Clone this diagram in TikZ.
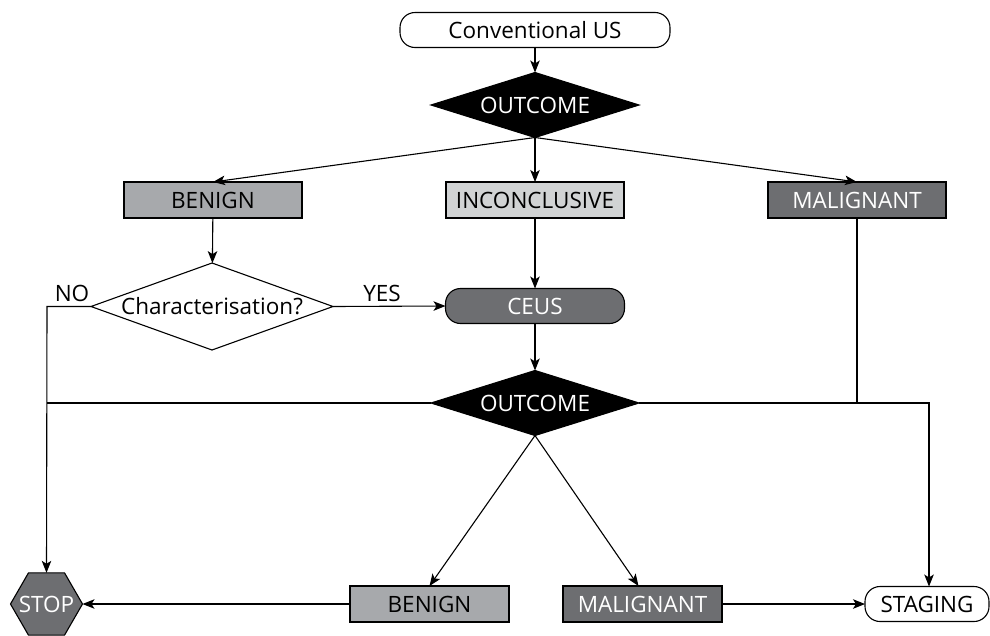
\documentclass[tikz,border=0pt]{standalone}
\usepackage{fontspec}
\setmainfont{Open Sans}
\usetikzlibrary{shapes.geometric,arrows.meta}
\definecolor{dgray}{HTML}{6D6E71}
\definecolor{mgray}{HTML}{A7A9AC}
\definecolor{lgray}{HTML}{D1D3D4}
\newcommand{\ztext}[1]{\makebox[0pt]{\smash{\raisebox{-0.36em}{#1}}}}
\begin{document}
\begin{tikzpicture}[x=1pt,y=-1pt,
  every node/.style={font=\fontsize{22.5}{26}\selectfont, inner sep=0pt, outer sep=0pt},
  base/.style={draw=black, line width=1.1pt},
  boxnode/.style={base, rectangle, minimum width=178pt, minimum height=36pt},
  roundnode/.style={base, rectangle, rounded corners=15pt, minimum height=35pt},
  diamnode/.style={base, diamond, fill=black, text=white, minimum width=208pt, minimum height=65pt},
  qnode/.style={base, diamond, fill=white, minimum width=242pt, minimum height=87pt},
  conn/.style={line width=1.1pt, -{Stealth[length=12pt,width=9.5pt,inset=3pt]}},
  plain/.style={line width=1.1pt}]
\useasboundingbox (0,0) rectangle (990,635);
\node[roundnode, minimum width=270pt, fill=white] (cus) at (535,30) {Conventional US};
\node[diamnode] (out1) at (535,105) {\ztext{OUTCOME}};
\node[boxnode, fill=mgray] (ben1) at (213,200) {BENIGN};
\node[boxnode, fill=lgray] (inc) at (535,200) {INCONCLUSIVE};
\node[boxnode, fill=dgray, text=white] (mal1) at (857,200) {MALIGNANT};
\node[qnode] (char) at (212,306.5) {\ztext{Characterisation?}};
\node[roundnode, minimum width=179pt, fill=dgray, text=white] (ceus) at (535,306) {CEUS};
\node[diamnode] (out2) at (535,403) {\ztext{OUTCOME}};
\node[base, regular polygon, regular polygon sides=6, minimum size=72pt, fill=dgray, text=white] (stop) at (46.5,604) {\ztext{STOP}};
\node[boxnode, minimum width=159pt, fill=mgray] (ben2) at (429.5,604) {BENIGN};
\node[boxnode, minimum width=159pt, fill=dgray, text=white] (mal2) at (642.5,604) {MALIGNANT};
\node[roundnode, minimum width=124pt, fill=white] (stag) at (927,604) {STAGING};
\node (no) at (72,293) {NO};
\node (yes) at (382,293) {YES};
\coordinate (jl) at (47,403);
\coordinate (jn) at (47,306.5);
\coordinate (jm) at (857,403);
\coordinate (jr) at (929,403);
\draw[conn] (cus) -- (out1);
\draw[conn] (out1.south) -- (ben1.north);
\draw[conn] (out1.south) -- (inc.north);
\draw[conn] (out1.south) -- (mal1.north);
\draw[conn] (ben1) -- (char);
\draw[conn] (inc) -- (ceus);
\draw[conn] (char.east) -- (ceus.west);
\draw[conn] (char.west) -- (jn) -- (stop.north);
\draw[conn] (ceus) -- (out2);
\draw[plain] (out2.west) -- (jl);
\draw[plain] (mal1.south) -- (jm);
\draw[conn] (out2.east) -- (jr) -- (stag.north -| jr);
\draw[conn] (out2.south) -- (ben2.north);
\draw[conn] (out2.south) -- ([xshift=-4pt]mal2.north);
\draw[conn] (ben2.west) -- (stop.east);
\draw[conn] (mal2.east) -- (stag.west);
\end{tikzpicture}
\end{document}
